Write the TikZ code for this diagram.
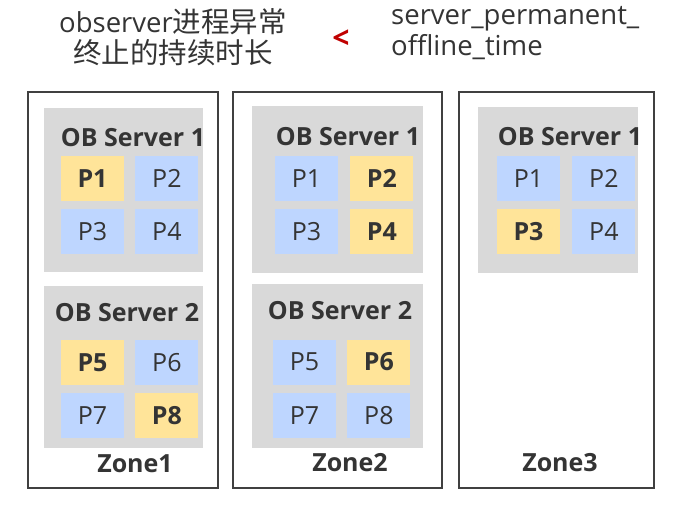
\documentclass[tikz,border=0pt]{standalone}
\usepackage{fontspec}
\setmainfont{Open Sans}
\newfontfamily\cjk{Noto Sans CJK SC}
\usetikzlibrary{positioning}
\definecolor{obtext}{RGB}{52,52,52}
\definecolor{obframe}{RGB}{64,64,64}
\definecolor{obgray}{RGB}{217,217,217}
\definecolor{obblue}{RGB}{190,214,255}
\definecolor{obyellow}{RGB}{255,228,153}
\definecolor{obred}{RGB}{192,0,0}

\begin{document}
\begin{tikzpicture}[
      x=1pt, y=-1pt,
      node distance=8pt and 11pt,
      zone/.style={draw=obframe, line width=1.6pt, fill=white},
      srv/.style={fill=obgray, inner sep=0pt, minimum width=160pt, minimum height=165pt},
      srvtitle/.style={font=\bfseries\fontsize{25}{28}\selectfont, text=obtext, inner sep=0pt},
      part/.style={minimum width=63pt, minimum height=45pt, inner sep=0pt, text=obtext, font=\fontsize{25}{28}\selectfont},
      pblue/.style={part, fill=obblue},
      pyel/.style={part, fill=obyellow, font=\bfseries\fontsize{25}{28}\selectfont},
      zonelabel/.style={font=\bfseries\fontsize{25}{28}\selectfont, text=obtext, inner sep=0pt},
      head/.style={text=obtext, inner sep=0pt, font=\fontsize{27.5}{31}\selectfont}
    ]
      \useasboundingbox (0,0) rectangle (690,506);

      % header
      \node[head, align=center] (cond) at (173,37) {observer{\cjk\fontsize{28.5}{31}\selectfont 进程异常}\\{\cjk\fontsize{28.5}{31}\selectfont 终止的持续时长}};
      \node[text=obred, font=\bfseries\fontsize{30}{32}\selectfont, inner sep=0pt] (lt) at (341,39) {<};
      \node[head, align=left, anchor=west] (param) at (391,33) {server\_permanent\_\\offline\_time};

      % zones
      \draw[zone] (28,92) rectangle (218,488);
      \draw[zone] (233,92) rectangle (442,488);
      \draw[zone] (459,92) rectangle (654,488);

      % zone 1
      \node[srv, minimum width=159pt, minimum height=164pt] (z1s1) at (123.5,190) {};
      \node[srvtitle] (z1s1t) at (133,138) {OB Server 1};
      \node[pyel] (z1p1) at (92.5,178.5) {P1};
      \node[pblue, right=of z1p1] (z1p2) {P2};
      \node[pblue, below=of z1p1] (z1p3) {P3};
      \node[pblue, right=of z1p3] (z1p4) {P4};

      \node[srv, minimum width=159pt, minimum height=162pt] (z1s2) at (123.5,367) {};
      \node[srvtitle] (z1s2t) at (127,313) {OB Server 2};
      \node[pyel] (z1p5) at (92.5,362.5) {P5};
      \node[pblue, right=of z1p5] (z1p6) {P6};
      \node[pblue, below=of z1p5] (z1p7) {P7};
      \node[pyel, right=of z1p7] (z1p8) {P8};
      \node[zonelabel] (zone1) at (135,464) {Zone1};

      % zone 2
      \node[srv, minimum width=171pt, minimum height=167pt] (z2s1) at (337.5,189.5) {};
      \node[srvtitle] (z2s1t) at (348,137) {OB Server 1};
      \node[pblue] (z2p1) at (306.5,178.5) {P1};
      \node[pyel, right=12pt of z2p1] (z2p2) {P2};
      \node[pblue, below=of z2p1] (z2p3) {P3};
      \node[pyel, right=12pt of z2p3] (z2p4) {P4};

      \node[srv, minimum width=171pt, minimum height=164pt] (z2s2) at (337.5,366) {};
      \node[srvtitle] (z2s2t) at (340,311) {OB Server 2};
      \node[pblue] (z2p5) at (304.5,362) {P5};
      \node[pyel, right=of z2p5] (z2p6) {P6};
      \node[pblue, below=of z2p5] (z2p7) {P7};
      \node[pblue, right=of z2p7] (z2p8) {P8};
      \node[zonelabel] (zone2) at (350,463) {Zone2};

      % zone 3
      \node[srv, minimum width=160pt, minimum height=166pt] (z3s1) at (558,190) {};
      \node[srvtitle] (z3s1t) at (570,137) {OB Server 1};
      \node[pblue] (z3p1) at (528.5,178.5) {P1};
      \node[pblue, right=12pt of z3p1] (z3p2) {P2};
      \node[pyel, below=of z3p1] (z3p3) {P3};
      \node[pblue, right=12pt of z3p3] (z3p4) {P4};
      \node[zonelabel] (zone3) at (560,463) {Zone3};
    \end{tikzpicture}
\end{document}
